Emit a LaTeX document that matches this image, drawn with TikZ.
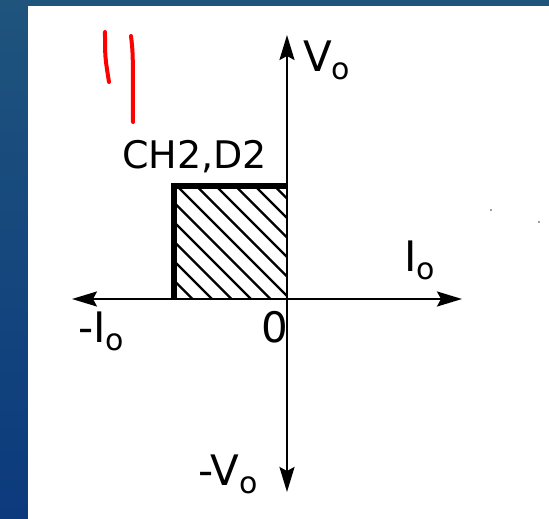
\documentclass[tikz,border=0pt]{standalone}
\usepackage{fontspec}
\setmainfont{DejaVu Sans}
\usetikzlibrary{arrows.meta}
\definecolor{slidetop}{RGB}{31,84,125}
\definecolor{slidebot}{RGB}{12,58,125}
\newcommand{\subo}{\raisebox{-8pt}{\fontsize{30}{32}\selectfont o}}
\tikzset{
  lbl/.style={font=\fontsize{42}{46}\selectfont,inner sep=0pt},
  tag/.style={font=\fontsize{38}{42}\selectfont,inner sep=0pt},
  axis/.style={line width=2.4pt},
  hatch/.style={line width=2.4pt},
  penmark/.style={red,line width=4pt,line cap=round}
}
\begin{document}
\begin{tikzpicture}[x=1pt,y=1pt,>={Stealth[length=25pt,width=15pt,inset=4pt]}]
\useasboundingbox (-287,-220) rectangle (262,299);
\fill[white] (-287,-220) rectangle (262,299);
% slide edge
\shade[top color=slidetop,bottom color=slidebot] (-287,-220) rectangle (-259,299);
\fill[slidetop] (-259,293) rectangle (262,299);
% axes
\coordinate (O) at (0,0);
\coordinate (xl) at (-215,0);
\coordinate (xr) at (175,0);
\coordinate (yt) at (0,264);
\coordinate (yb) at (0,-193);
\draw[axis,<->] (xl) -- (xr);
\draw[axis,<->] (yb) -- (yt);
% hatched quadrant
\coordinate (A) at (-113,113);
\begin{scope}
\clip (A) rectangle (O);
\foreach \k in {-6,...,6}
  \draw[hatch] (-110+19.5*\k,113) -- ++(130,-130);
\end{scope}
\draw[line width=5.5pt] (O -| A) -- (A) -- (O |- A);
% labels
\node[tag,anchor=base west] (ch) at (-165,130) {CH2,D2};
\node[lbl,anchor=base west] (vo) at (16,227) {V\subo};
\node[lbl,anchor=base west] (io) at (117,27) {I\subo};
\node[lbl,anchor=base east] (zero) at (1,-44) {0};
\node[lbl,anchor=base west] (mio) at (-209,-44) {-I\subo};
\node[lbl,anchor=base west] (mvo) at (-89,-186) {-V\subo};
% red pen marks
\draw[penmark] (-182,267) .. controls (-182,242) .. (-178,217);
\draw[penmark] (-156,263) .. controls (-154,246) .. (-154,177);
% specks
\fill[gray] (204,89) circle (1.2);
\fill[gray] (252,77) circle (1.2);
\end{tikzpicture}
\end{document}
